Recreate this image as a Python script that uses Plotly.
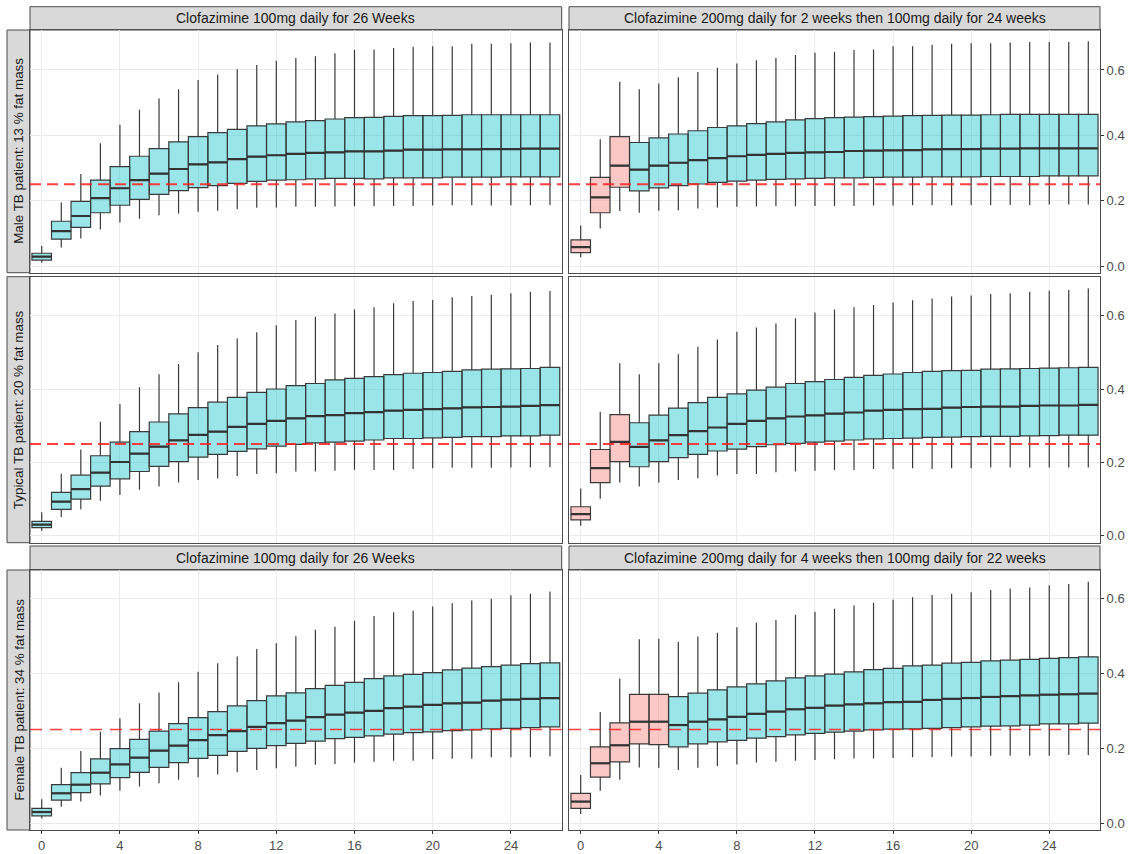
import plotly.graph_objects as go

weeks = list(range(27))
week_ticks = [0, 4, 8, 12, 16, 20, 24]
y_ticks = [0.0, 0.2, 0.4, 0.6]
y_tick_text = ["0.0", "0.2", "0.4", "0.6"]
threshold = 0.25

col_titles_top = ["Clofazimine 100mg daily for 26 Weeks",
                  "Clofazimine 200mg daily for 2 weeks then 100mg daily for 24 weeks"]
col_titles_bottom = ["Clofazimine 100mg daily for 26 Weeks",
                     "Clofazimine 200mg daily for 4 weeks then 100mg daily for 22 weeks"]
row_labels = ["Male TB patient: 13 % fat mass",
              "Typical TB patient: 20 % fat mass",
              "Female TB patient: 34 % fat mass"]

# ---- Male, standard regimen ----
male_std_hi = [0.061,0.194,0.282,0.376,0.432,0.478,0.513,0.541,0.569,0.586,0.602,0.615,0.628,0.637,0.642,0.651,0.661,0.663,0.667,0.671,0.673,0.673,0.680,0.680,0.682,0.684,0.684]
male_std_q3 = [0.039,0.137,0.198,0.263,0.304,0.336,0.359,0.380,0.396,0.408,0.418,0.429,0.435,0.441,0.445,0.450,0.454,0.455,0.458,0.460,0.460,0.461,0.463,0.463,0.463,0.463,0.463]
male_std_med = [0.029,0.107,0.153,0.208,0.238,0.263,0.283,0.297,0.311,0.317,0.327,0.335,0.339,0.343,0.346,0.348,0.351,0.351,0.353,0.356,0.356,0.357,0.357,0.358,0.358,0.359,0.359]
male_std_q1 = [0.018,0.082,0.118,0.163,0.186,0.204,0.219,0.231,0.240,0.246,0.253,0.259,0.263,0.264,0.267,0.268,0.268,0.267,0.270,0.270,0.270,0.272,0.272,0.272,0.273,0.273,0.273]
male_std_lo = [0.010,0.057,0.084,0.112,0.133,0.145,0.155,0.161,0.166,0.169,0.174,0.178,0.179,0.181,0.181,0.182,0.183,0.183,0.184,0.184,0.185,0.186,0.186,0.185,0.186,0.186,0.187]

# ---- Male, loading regimen (2 weeks) ----
male_load_hi = [0.124,0.388,0.564,0.541,0.559,0.578,0.594,0.607,0.620,0.630,0.637,0.646,0.653,0.656,0.661,0.663,0.673,0.673,0.677,0.680,0.682,0.682,0.684,0.686,0.686,0.686,0.688]
male_load_q3 = [0.080,0.271,0.396,0.378,0.392,0.404,0.414,0.424,0.429,0.436,0.441,0.447,0.451,0.454,0.456,0.457,0.459,0.460,0.461,0.462,0.462,0.463,0.464,0.464,0.464,0.464,0.464]
male_load_med = [0.058,0.210,0.307,0.295,0.307,0.316,0.324,0.330,0.336,0.340,0.343,0.346,0.348,0.349,0.352,0.353,0.354,0.355,0.357,0.358,0.358,0.359,0.359,0.360,0.360,0.360,0.360]
male_load_q1 = [0.041,0.163,0.241,0.230,0.239,0.246,0.251,0.256,0.260,0.263,0.265,0.267,0.268,0.270,0.270,0.271,0.272,0.272,0.273,0.273,0.273,0.274,0.274,0.274,0.276,0.276,0.276]
male_load_lo = [0.027,0.115,0.168,0.163,0.169,0.171,0.176,0.179,0.181,0.182,0.183,0.183,0.184,0.184,0.184,0.185,0.185,0.186,0.186,0.186,0.187,0.187,0.187,0.187,0.188,0.188,0.188]

# ---- Typical, standard regimen ----
typ_std_hi = [0.064,0.169,0.235,0.311,0.359,0.405,0.440,0.468,0.500,0.520,0.538,0.555,0.574,0.588,0.597,0.606,0.617,0.623,0.634,0.640,0.643,0.650,0.654,0.657,0.661,0.665,0.667]
typ_std_q3 = [0.039,0.118,0.165,0.218,0.255,0.284,0.310,0.332,0.349,0.364,0.377,0.391,0.400,0.409,0.415,0.425,0.429,0.434,0.439,0.443,0.445,0.448,0.452,0.454,0.455,0.456,0.459]
typ_std_med = [0.030,0.093,0.127,0.172,0.201,0.224,0.243,0.260,0.275,0.284,0.297,0.305,0.313,0.320,0.326,0.329,0.334,0.337,0.341,0.343,0.345,0.347,0.350,0.351,0.352,0.354,0.356]
typ_std_q1 = [0.022,0.072,0.100,0.135,0.155,0.175,0.189,0.202,0.214,0.222,0.230,0.237,0.244,0.249,0.253,0.255,0.258,0.261,0.265,0.265,0.267,0.268,0.270,0.270,0.272,0.272,0.274]
typ_std_lo = [0.013,0.051,0.072,0.095,0.111,0.125,0.134,0.145,0.152,0.156,0.163,0.168,0.170,0.175,0.175,0.177,0.180,0.179,0.179,0.182,0.184,0.185,0.185,0.185,0.186,0.186,0.187]

# ---- Typical, loading regimen (2 weeks) ----
typ_load_hi = [0.129,0.338,0.470,0.440,0.470,0.495,0.515,0.535,0.556,0.568,0.579,0.593,0.609,0.617,0.623,0.629,0.636,0.642,0.647,0.652,0.655,0.659,0.661,0.665,0.668,0.670,0.674]
typ_load_q3 = [0.079,0.235,0.330,0.308,0.329,0.348,0.363,0.377,0.387,0.397,0.405,0.415,0.420,0.426,0.432,0.437,0.441,0.445,0.448,0.450,0.451,0.454,0.455,0.456,0.457,0.458,0.459]
typ_load_med = [0.059,0.184,0.256,0.242,0.260,0.274,0.285,0.295,0.305,0.313,0.320,0.325,0.328,0.333,0.336,0.341,0.343,0.345,0.346,0.349,0.351,0.352,0.352,0.354,0.355,0.355,0.357]
typ_load_q1 = [0.043,0.145,0.202,0.188,0.202,0.213,0.222,0.231,0.236,0.243,0.248,0.252,0.255,0.258,0.261,0.264,0.265,0.266,0.268,0.269,0.270,0.271,0.271,0.272,0.273,0.274,0.274]
typ_load_lo = [0.027,0.101,0.145,0.134,0.145,0.152,0.157,0.164,0.168,0.168,0.173,0.175,0.177,0.179,0.179,0.182,0.182,0.184,0.182,0.184,0.184,0.186,0.186,0.186,0.186,0.186,0.186]

# ---- Female, standard regimen ----
fem_std_hi = [0.064,0.148,0.193,0.244,0.280,0.320,0.349,0.376,0.404,0.427,0.445,0.465,0.480,0.499,0.516,0.524,0.540,0.553,0.563,0.567,0.578,0.587,0.594,0.599,0.608,0.612,0.618]
fem_std_q3 = [0.040,0.103,0.135,0.172,0.199,0.224,0.246,0.266,0.282,0.298,0.313,0.327,0.340,0.348,0.359,0.368,0.376,0.386,0.393,0.397,0.402,0.409,0.414,0.418,0.422,0.426,0.428]
fem_std_med = [0.030,0.080,0.103,0.135,0.157,0.175,0.194,0.207,0.222,0.235,0.246,0.257,0.267,0.274,0.283,0.290,0.295,0.300,0.307,0.311,0.316,0.320,0.322,0.327,0.330,0.332,0.334]
fem_std_q1 = [0.020,0.062,0.082,0.105,0.122,0.136,0.149,0.162,0.173,0.181,0.192,0.200,0.207,0.213,0.219,0.226,0.229,0.233,0.238,0.242,0.244,0.247,0.249,0.252,0.253,0.255,0.257]
fem_std_lo = [0.013,0.044,0.058,0.074,0.087,0.098,0.107,0.116,0.123,0.130,0.136,0.142,0.147,0.151,0.156,0.158,0.162,0.164,0.167,0.167,0.171,0.172,0.172,0.176,0.176,0.176,0.179]

# ---- Female, loading regimen (4 weeks) ----
fem_load_hi = [0.129,0.297,0.386,0.491,0.492,0.484,0.498,0.508,0.523,0.535,0.542,0.556,0.564,0.572,0.581,0.588,0.596,0.603,0.609,0.612,0.616,0.622,0.626,0.629,0.635,0.638,0.644]
fem_load_q3 = [0.080,0.204,0.268,0.344,0.344,0.338,0.347,0.356,0.364,0.372,0.380,0.388,0.393,0.398,0.404,0.410,0.413,0.420,0.422,0.427,0.429,0.433,0.435,0.437,0.440,0.442,0.444]
fem_load_med = [0.058,0.160,0.208,0.271,0.271,0.262,0.271,0.277,0.284,0.292,0.298,0.304,0.308,0.314,0.317,0.320,0.323,0.324,0.329,0.332,0.334,0.337,0.339,0.341,0.343,0.344,0.346]
fem_load_q1 = [0.040,0.123,0.164,0.212,0.210,0.204,0.212,0.217,0.221,0.227,0.231,0.236,0.240,0.243,0.246,0.249,0.251,0.252,0.253,0.255,0.257,0.259,0.260,0.262,0.265,0.265,0.267]
fem_load_lo = [0.025,0.087,0.116,0.149,0.148,0.142,0.148,0.153,0.157,0.162,0.164,0.167,0.169,0.171,0.173,0.173,0.174,0.176,0.176,0.178,0.178,0.180,0.180,0.180,0.180,0.182,0.182]

# number of loading-dose (200mg) boxes in each loading panel
male_load_n = 3
typ_load_n = 3
fem_load_n = 5

# ---------------- layout geometry ----------------
W, H = 1132, 854
FONT = "Liberation Sans, Arial, sans-serif"
CYAN = "rgba(0,191,196,0.4)"
PINK = "rgba(248,118,109,0.4)"
EDGE = "#3a3a3a"
BORDER = "#4d4d4d"
STRIP_FONT = 14
ROW_FONT = 13.4
TICK_FONT = 13

col_x = [(30 / W, 561.7 / W), (569 / W, 1100 / W)]
row_y = [(1 - 272.7 / H, 1 - 30 / H), (1 - 542.7 / H, 1 - 276.7 / H), (1 - 830 / H, 1 - 570 / H)]
row_range = [(-0.0205, 0.7224), (-0.0191, 0.7063), (-0.0179, 0.6755)]
top_strips = {0: (1 - 30 / H, 1 - 6.7 / H, col_titles_top), 2: (1 - 570 / H, 1 - 546 / H, col_titles_bottom)}
left_strip_x = (7 / W, 30 / W)

panels = [
    (0, 0, (male_std_lo, male_std_q1, male_std_med, male_std_q3, male_std_hi), 0),
    (0, 1, (male_load_lo, male_load_q1, male_load_med, male_load_q3, male_load_hi), male_load_n),
    (1, 0, (typ_std_lo, typ_std_q1, typ_std_med, typ_std_q3, typ_std_hi), 0),
    (1, 1, (typ_load_lo, typ_load_q1, typ_load_med, typ_load_q3, typ_load_hi), typ_load_n),
    (2, 0, (fem_std_lo, fem_std_q1, fem_std_med, fem_std_q3, fem_std_hi), 0),
    (2, 1, (fem_load_lo, fem_load_q1, fem_load_med, fem_load_q3, fem_load_hi), fem_load_n),
]

fig = go.Figure()
layout = dict(
    width=W, height=H, margin=dict(l=0, r=0, t=0, b=0),
    paper_bgcolor="white", plot_bgcolor="white", showlegend=False,
    font=dict(family=FONT, size=12, color="#1A1A1A"), boxmode="overlay",
)
shapes = []
annotations = []

for k, (r, c, stats, nload) in enumerate(panels):
    idx = k + 1
    xa = "x" if idx == 1 else f"x{idx}"
    ya = "y" if idx == 1 else f"y{idx}"
    xkey = "xaxis" if idx == 1 else f"xaxis{idx}"
    ykey = "yaxis" if idx == 1 else f"yaxis{idx}"
    lo, q1, med, q3, hi = stats

    groups = [(list(range(0, nload)), PINK), (list(range(nload, len(weeks))), CYAN)]
    for ids, color in groups:
        if not ids:
            continue
        fig.add_trace(go.Box(
            x=[weeks[i] for i in ids],
            lowerfence=[lo[i] for i in ids], q1=[q1[i] for i in ids],
            median=[med[i] for i in ids], q3=[q3[i] for i in ids],
            upperfence=[hi[i] for i in ids],
            width=1.0, whiskerwidth=0, fillcolor=color,
            line=dict(color=EDGE, width=1.2),
            boxpoints=False, hoverinfo="skip", xaxis=xa, yaxis=ya,
        ))
    # thick median bars
    mx, my = [], []
    for w, m in zip(weeks, med):
        mx += [w - 0.5, w + 0.5, None]
        my += [m, m, None]
    fig.add_trace(go.Scatter(x=mx, y=my, mode="lines", line=dict(color="#333333", width=2.2),
                             hoverinfo="skip", xaxis=xa, yaxis=ya))

    # threshold line
    shapes.append(dict(type="line", xref=f"{xa} domain", yref=ya, x0=0, x1=1,
                       y0=threshold, y1=threshold,
                       line=dict(color="rgba(255,30,30,0.85)", width=2.0 if r < 2 else 1.5,
                                 dash="11px,6px" if r < 2 else "12px,8px"), layer="above"))

    bottom = (r == 2)
    layout[xkey] = dict(
        domain=list(col_x[c]), range=[-0.6, 26.6], anchor=ya,
        tickvals=week_ticks, showticklabels=bottom, ticks="outside" if bottom else "",
        ticklen=3, tickcolor="#333333", tickwidth=1,
        tickfont=dict(family=FONT, size=TICK_FONT, color="#4D4D4D"),
        showgrid=True, gridcolor="#EBEBEB", gridwidth=1, zeroline=False,
        showline=True, mirror=True, linecolor=BORDER, linewidth=1,
    )
    right = (c == 1)
    layout[ykey] = dict(
        domain=list(row_y[r]), range=list(row_range[r]), anchor=xa,
        side="right" if right else "left",
        tickvals=y_ticks, ticktext=y_tick_text, showticklabels=right,
        ticks="outside" if right else "", ticklen=3, tickcolor="#333333", tickwidth=1,
        tickfont=dict(family=FONT, size=TICK_FONT, color="#4D4D4D"),
        showgrid=True, gridcolor="#EBEBEB", gridwidth=1, zeroline=False,
        showline=True, mirror=True, linecolor=BORDER, linewidth=1,
    )

# top strips
for r, (y0, y1, titles) in top_strips.items():
    for c in range(2):
        x0, x1 = col_x[c]
        shapes.append(dict(type="rect", xref="paper", yref="paper", x0=x0, x1=x1, y0=y0, y1=y1,
                           fillcolor="#D9D9D9", line=dict(color=BORDER, width=1), layer="below"))
        annotations.append(dict(text=titles[c], xref="paper", yref="paper", x=(x0 + x1) / 2,
                                y=(y0 + y1) / 2, showarrow=False, xanchor="center", yanchor="middle",
                                font=dict(family=FONT, size=STRIP_FONT, color="#1A1A1A")))

# left strips
for r in range(3):
    y0, y1 = row_y[r]
    x0, x1 = left_strip_x
    shapes.append(dict(type="rect", xref="paper", yref="paper", x0=x0, x1=x1, y0=y0, y1=y1,
                       fillcolor="#D9D9D9", line=dict(color=BORDER, width=1), layer="below"))
    annotations.append(dict(text=row_labels[r], xref="paper", yref="paper", x=(x0 + x1) / 2,
                            y=(y0 + y1) / 2, showarrow=False, textangle=-90,
                            xanchor="center", yanchor="middle",
                            font=dict(family=FONT, size=ROW_FONT, color="#1A1A1A")))

layout["shapes"] = shapes
layout["annotations"] = annotations
fig.update_layout(**layout)
fig.write_html("out.html", config={"displayModeBar": False},
               post_script="document.body.style.margin='0px';document.body.style.overflow='hidden';")
